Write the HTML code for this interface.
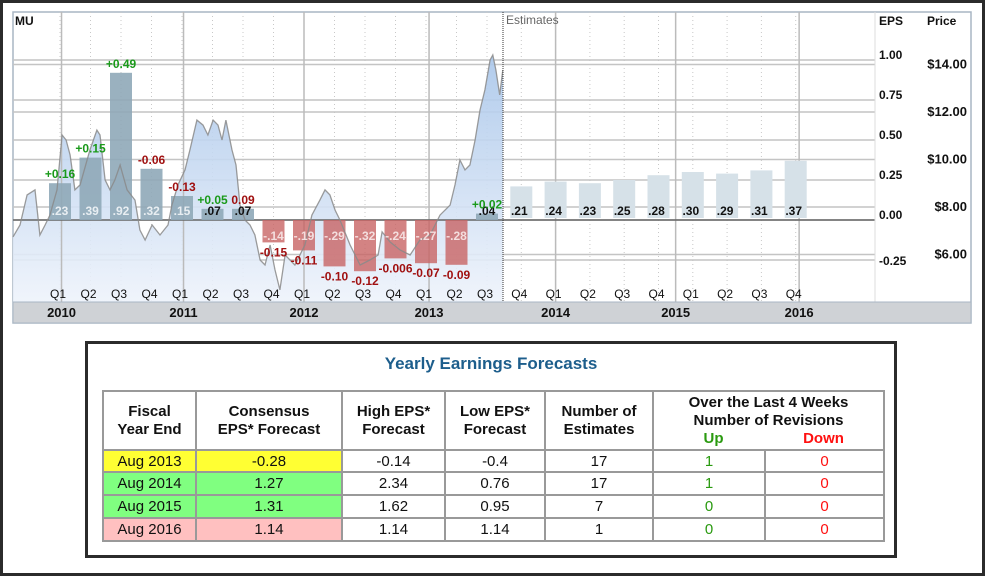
<!DOCTYPE html>
<html><head><meta charset="utf-8"><style>
body{margin:0;width:985px;height:576px;overflow:hidden;background:#fff;font-family:"Liberation Sans",Arial,sans-serif;}
#frame{position:absolute;left:0;top:0;width:979px;height:570px;border:3px solid #2b2b2b;}
#chart{position:absolute;left:0;top:0;}
#box{position:absolute;left:85px;top:341px;width:806px;height:211px;border:3px solid #2b2b2b;background:#fff;}
#title{position:absolute;left:0;width:806px;top:10px;text-align:center;color:#1d5e8c;font-weight:bold;font-size:17px;}
table{position:absolute;left:14px;top:46px;border-collapse:collapse;font-size:15px;color:#111;}
td,th{border:2px solid #999;text-align:center;padding:0;}
th{font-weight:bold;font-size:15px;line-height:18px;}
.y{background:#ffff33}.g{background:#80ff80}.p{background:#ffc0c0}
.up{color:#2a9a10}.dn{color:#ff1010}
</style></head><body>
<div id="frame"></div>
<svg id="chart" width="985" height="330"></svg>
<div id="box">
<div id="title">Yearly Earnings Forecasts</div>
<table>
<tr style="height:59px"><th style="width:91px">Fiscal<br>Year End</th><th style="width:144px">Consensus<br>EPS* Forecast</th><th style="width:101px">High EPS*<br>Forecast</th><th style="width:98px">Low EPS*<br>Forecast</th><th style="width:106px">Number of<br>Estimates</th><th colspan="2" style="width:229px">Over the Last 4 Weeks<br>Number of Revisions<br><span style="display:inline-block;width:110px" class="up">Up</span><span style="display:inline-block;width:110px" class="dn">Down</span></th></tr>
<tr style="height:22px"><td class="y">Aug 2013</td><td class="y">-0.28</td><td>-0.14</td><td>-0.4</td><td>17</td><td class="up" style="width:110px">1</td><td class="dn">0</td></tr>
<tr style="height:23px"><td class="g">Aug 2014</td><td class="g">1.27</td><td>2.34</td><td>0.76</td><td>17</td><td class="up">1</td><td class="dn">0</td></tr>
<tr style="height:23px"><td class="g">Aug 2015</td><td class="g">1.31</td><td>1.62</td><td>0.95</td><td>7</td><td class="up">0</td><td class="dn">0</td></tr>
<tr style="height:23px"><td class="p">Aug 2016</td><td class="p">1.14</td><td>1.14</td><td>1.14</td><td>1</td><td class="up">0</td><td class="dn">0</td></tr>
</table></div>
<script>
const quarters=["Q1","Q2","Q3","Q4","Q1","Q2","Q3","Q4","Q1","Q2","Q3","Q4","Q1","Q2","Q3","Q4","Q1","Q2","Q3","Q4","Q1","Q2","Q3","Q4"];
const years=["2010","2011","2012","2013","2014","2015","2016"];
const yearT=[0.05,4.05,8.0,12.1,16.0,19.5,23.1];
const actualEps=[0.23,0.39,0.92,0.32,0.15,0.07,0.07,-0.14,-0.19,-0.29,-0.32,-0.24,-0.27,-0.28,0.04];
const actualLabels=[".23",".39",".92",".32",".15",".07",".07","-.14","-.19","-.29","-.32","-.24","-.27","-.28",".04"];
const surprises=["+0.16","+0.15","+0.49","-0.06","-0.13","+0.05","0.09","-0.15","-0.11","-0.10","-0.12","-0.006","-0.07","-0.09","+0.02"];
const estimateEps=[0.21,0.24,0.23,0.25,0.28,0.30,0.29,0.31,0.37];
const estimateLabels=[".21",".24",".23",".25",".28",".30",".29",".31",".37"];
const epsTicks=[1.00,0.75,0.50,0.25,0.00,-0.25];
const priceTicks=[14,12,10,8,6];
const priceT=[-1.54,-1.31,-1.08,-0.82,-0.66,-0.49,-0.33,-0.10,0.07,0.20,0.33,0.49,0.66,0.98,1.21,1.31,1.48,1.64,1.80,1.97,2.20,2.46,2.62,2.79,3.02,3.28,3.54,3.67,3.87,4.10,4.26,4.49,4.69,4.85,5.02,5.18,5.31,5.44,5.64,5.77,5.90,6.07,6.23,6.39,6.56,6.72,6.89,7.05,7.21,7.38,7.54,7.70,8.03,8.26,8.52,8.69,8.85,9.02,9.18,9.51,9.84,10.16,10.43,10.56,10.82,11.15,11.48,11.80,12.13,12.46,12.79,12.95,13.11,13.28,13.44,13.61,13.77,13.93,14.09,14.17,14.26,14.37,14.46];
const priceV=[6.74,7.24,8.51,8.72,6.82,7.24,7.66,8.72,11.03,10.82,10.19,8.72,8.93,10.40,11.24,11.03,9.14,8.72,9.14,9.77,8.72,8.29,7.03,6.61,7.24,6.82,7.24,8.08,8.93,9.56,10.40,11.66,11.45,11.03,11.66,11.45,10.82,11.66,10.40,9.77,8.08,7.45,7.24,6.82,5.77,5.56,6.40,5.35,4.51,5.98,5.77,5.56,6.40,7.66,8.29,8.72,8.51,7.87,7.45,6.40,5.56,5.77,5.98,6.95,6.53,6.19,5.98,6.61,6.82,7.66,8.08,8.93,9.98,9.56,9.77,10.82,12.08,12.93,14.19,14.40,13.77,12.72,13.77];

const NS="http://www.w3.org/2000/svg";
const svg=document.getElementById('chart');
function el(tag,attrs,parent){const e=document.createElementNS(NS,tag);for(const k in attrs)e.setAttribute(k,attrs[k]);(parent||svg).appendChild(e);return e;}
function x(t){return t<=14?60+t*30.5:487+(t-14)*34.3;}
function yE(v){return 220-v*160;}
function yP(p){return 397-p*23.75;}
const L=13,R=971,T=12,B=323,PR=875,BAND=302;

const bg=el('rect',{x:L,y:T,width:R-L,height:B-T,fill:'#fff',stroke:'#a9b6c4','stroke-width':1.5});

const defs=el('defs',{});
const lg=el('linearGradient',{id:'pf',x1:0,y1:0,x2:0,y2:1},defs);
el('stop',{offset:'0','stop-color':'#a9c6ea'},lg);el('stop',{offset:'1','stop-color':'#eef3fb'},lg);

for(let i=0;i<quarters.length;i++){const g=el('line',{x1:x(i),x2:x(i),y1:T,y2:BAND,stroke:'#c8c8c8','stroke-dasharray':'1,3'});}
epsTicks.forEach(v=>{const g=el('line',{x1:L,x2:PR,y1:yE(v),y2:yE(v),stroke:'#c4c4c4','stroke-width':1.5});});
priceTicks.forEach(p=>{const g=el('line',{x1:L,x2:PR,y1:yP(p),y2:yP(p),stroke:'#c4c4c4','stroke-width':1.5});});

let d='M'+x(priceT[0])+','+BAND;
priceT.forEach((t,i)=>{d+=' L'+x(t).toFixed(1)+','+yP(priceV[i]).toFixed(1);});
d+=' L'+x(priceT[priceT.length-1]).toFixed(1)+','+BAND+' Z';
const area=el('path',{d:d,fill:'url(#pf)',opacity:0.9});

let d2='';priceT.forEach((t,i)=>{d2+=(i?' L':'M')+x(t).toFixed(1)+','+yP(priceV[i]).toFixed(1);});

yearT.forEach(t=>{const xx=x(t);const g=el('line',{x1:xx,x2:xx,y1:T,y2:BAND,stroke:'#bbb','stroke-width':1.5});});
const z=el('line',{x1:L,x2:PR,y1:yE(0),y2:yE(0),stroke:'#666','stroke-width':1.5});

const bw=22;
actualEps.forEach((v,i)=>{
 const top=Math.min(yE(v),yE(0)),h=Math.abs(yE(v)-yE(0));
 const b=el('rect',{x:x(i)-bw/2,y:top,width:bw,height:h,fill:v>=0?'#8fa9b8':'#c86464',opacity:v>=0?0.9:0.8});
 
});
const pl=el('path',{d:d2,fill:'none',stroke:'#8a8a8a','stroke-width':1.3,opacity:0.85});

actualEps.forEach((v,i)=>{
 const lab=el('text',{x:x(i),y:v>=0?yE(0)-5:yE(0)+20,'text-anchor':'middle','font-size':12,'font-weight':'bold',fill:v>=0&&v>0.1?'#e8eef2':(v>=0?'#111':'#f4dede')});
 lab.textContent=actualLabels[i];
 const s=surprises[i];const pos=s.charAt(0)==='+';
 const sy=v>=0?yE(v)-5:yE(v)+14;
 const st=el('text',{x:x(i),y:sy,'text-anchor':'middle','font-size':12,'font-weight':'bold',fill:pos?'#1a9a1a':'#a01010'});
 st.textContent=s;
});
estimateEps.forEach((v,j)=>{
 const i=15+j;
 const b=el('rect',{x:x(i)-bw/2,y:yE(v),width:bw,height:yE(0)-yE(v)-2,fill:'#d6e1e8'});
 
 const lab=el('text',{x:x(i)-2,y:yE(0)-5,'text-anchor':'middle','font-size':12,'font-weight':'bold',fill:'#111'});
 lab.textContent=estimateLabels[j];
});
const dv=el('line',{x1:503,x2:503,y1:T,y2:BAND,stroke:'#333','stroke-dasharray':'1,1'});
const et=el('text',{x:506,y:24,'font-size':12,fill:'#666'});et.textContent='Estimates';
const mu=el('text',{x:15,y:25,'font-size':12,'font-weight':'bold',fill:'#111'});mu.textContent='MU';

const rp=el('line',{x1:PR,x2:PR,y1:T,y2:BAND,stroke:'#ddd'});
const eh=el('text',{x:879,y:25,'font-size':12,'font-weight':'bold',fill:'#111'});eh.textContent='EPS';
const ph=el('text',{x:927,y:25,'font-size':12,'font-weight':'bold',fill:'#111'});ph.textContent='Price';
epsTicks.forEach(v=>{const t=el('text',{x:879,y:yE(v)+(v<0?5:-1),'font-size':12,'font-weight':'bold',fill:'#111'});t.textContent=v.toFixed(2);});
priceTicks.forEach(p=>{const t=el('text',{x:967,y:yP(p)+4,'text-anchor':'end','font-size':13,'font-weight':'bold',fill:'#111'});t.textContent='$'+p.toFixed(2);});

const band=el('rect',{x:L,y:BAND,width:R-L,height:B-BAND,fill:'#cfd2d6',stroke:'#a9b6c4'});
quarters.forEach((q,i)=>{const t=el('text',{x:x(i)-2,y:298,'text-anchor':'middle','font-size':12,fill:'#111'});t.textContent=q;});
years.forEach((yv,i)=>{const t=el('text',{x:x(yearT[i]),y:317,'text-anchor':'middle','font-size':13,'font-weight':'bold',fill:'#111'});t.textContent=yv;});
</script>
</body></html>
